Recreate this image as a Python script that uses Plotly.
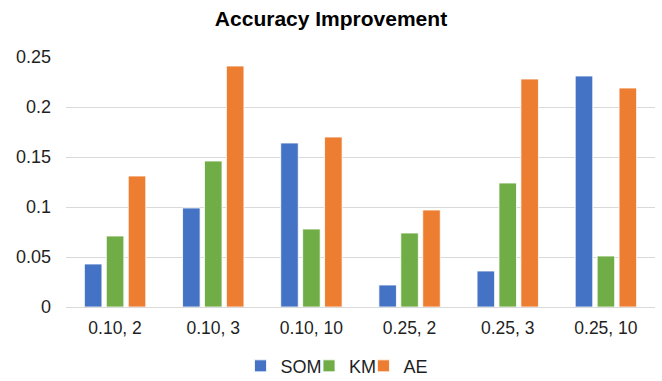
import plotly.graph_objects as go

# Parameter settings (threshold, clusters)
categories = ["0.10, 2", "0.10, 3", "0.10, 10", "0.25, 2", "0.25, 3", "0.25, 10"]

som = [0.043, 0.099, 0.164, 0.022, 0.036, 0.231]
km = [0.071, 0.146, 0.078, 0.074, 0.124, 0.051]
ae = [0.131, 0.241, 0.170, 0.097, 0.228, 0.219]

y_ticks = [0, 0.05, 0.1, 0.15, 0.2, 0.25]
y_tick_labels = ["0", "0.05", "0.1", "0.15", "0.2", "0.25"]

series = [
    ("SOM", som, "#4472C4"),
    ("KM", km, "#70AD47"),
    ("AE", ae, "#ED7D31"),
]

# one legend box per series so the entries sit close together
legend_ids = ["legend", "legend2", "legend3"]
legend_x = [0.3633, 0.4668, 0.549]

text_color = "#1F1F1F"
fig = go.Figure()
for (name, vals, color), lid in zip(series, legend_ids):
    fig.add_trace(go.Bar(
        x=categories, y=vals, name=name, legend=lid,
        marker=dict(color=color, line=dict(color="white", width=0.8)),
    ))

legend_style = dict(orientation="h", xref="container", yref="container",
                    xanchor="left", y=0.039, yanchor="middle",
                    font=dict(size=18, color=text_color), itemwidth=30,
                    bgcolor="rgba(0,0,0,0)")

fig.update_layout(
    width=662, height=381,
    margin=dict(l=66, r=7, t=57, b=74, autoexpand=False),
    paper_bgcolor="white", plot_bgcolor="white",
    font=dict(family="Liberation Sans, Arial, sans-serif", color=text_color, size=18),
    title=dict(text="<b>Accuracy Improvement</b>", x=0.5, xanchor="center",
               y=0.952, yanchor="middle",
               font=dict(size=21, color="black")),
    barmode="group", bargap=0.33, bargroupgap=0.2,
    showlegend=True,
    legend=dict(x=legend_x[0], **legend_style),
    legend2=dict(x=legend_x[1], **legend_style),
    legend3=dict(x=legend_x[2], **legend_style),
    xaxis=dict(showgrid=False, showline=False, ticks="", ticklabelstandoff=8,
               automargin=False, tickfont=dict(size=17.5, color=text_color)),
    yaxis=dict(range=[0, 0.25], tickvals=y_ticks, ticktext=y_tick_labels,
               showgrid=True, gridcolor="#D9D9D9", gridwidth=1,
               zeroline=True, zerolinecolor="#D9D9D9", zerolinewidth=1,
               showline=False, ticks="", ticklabelstandoff=14, automargin=False,
               tickfont=dict(size=18, color=text_color)),
)

fig.write_html("out.html")
